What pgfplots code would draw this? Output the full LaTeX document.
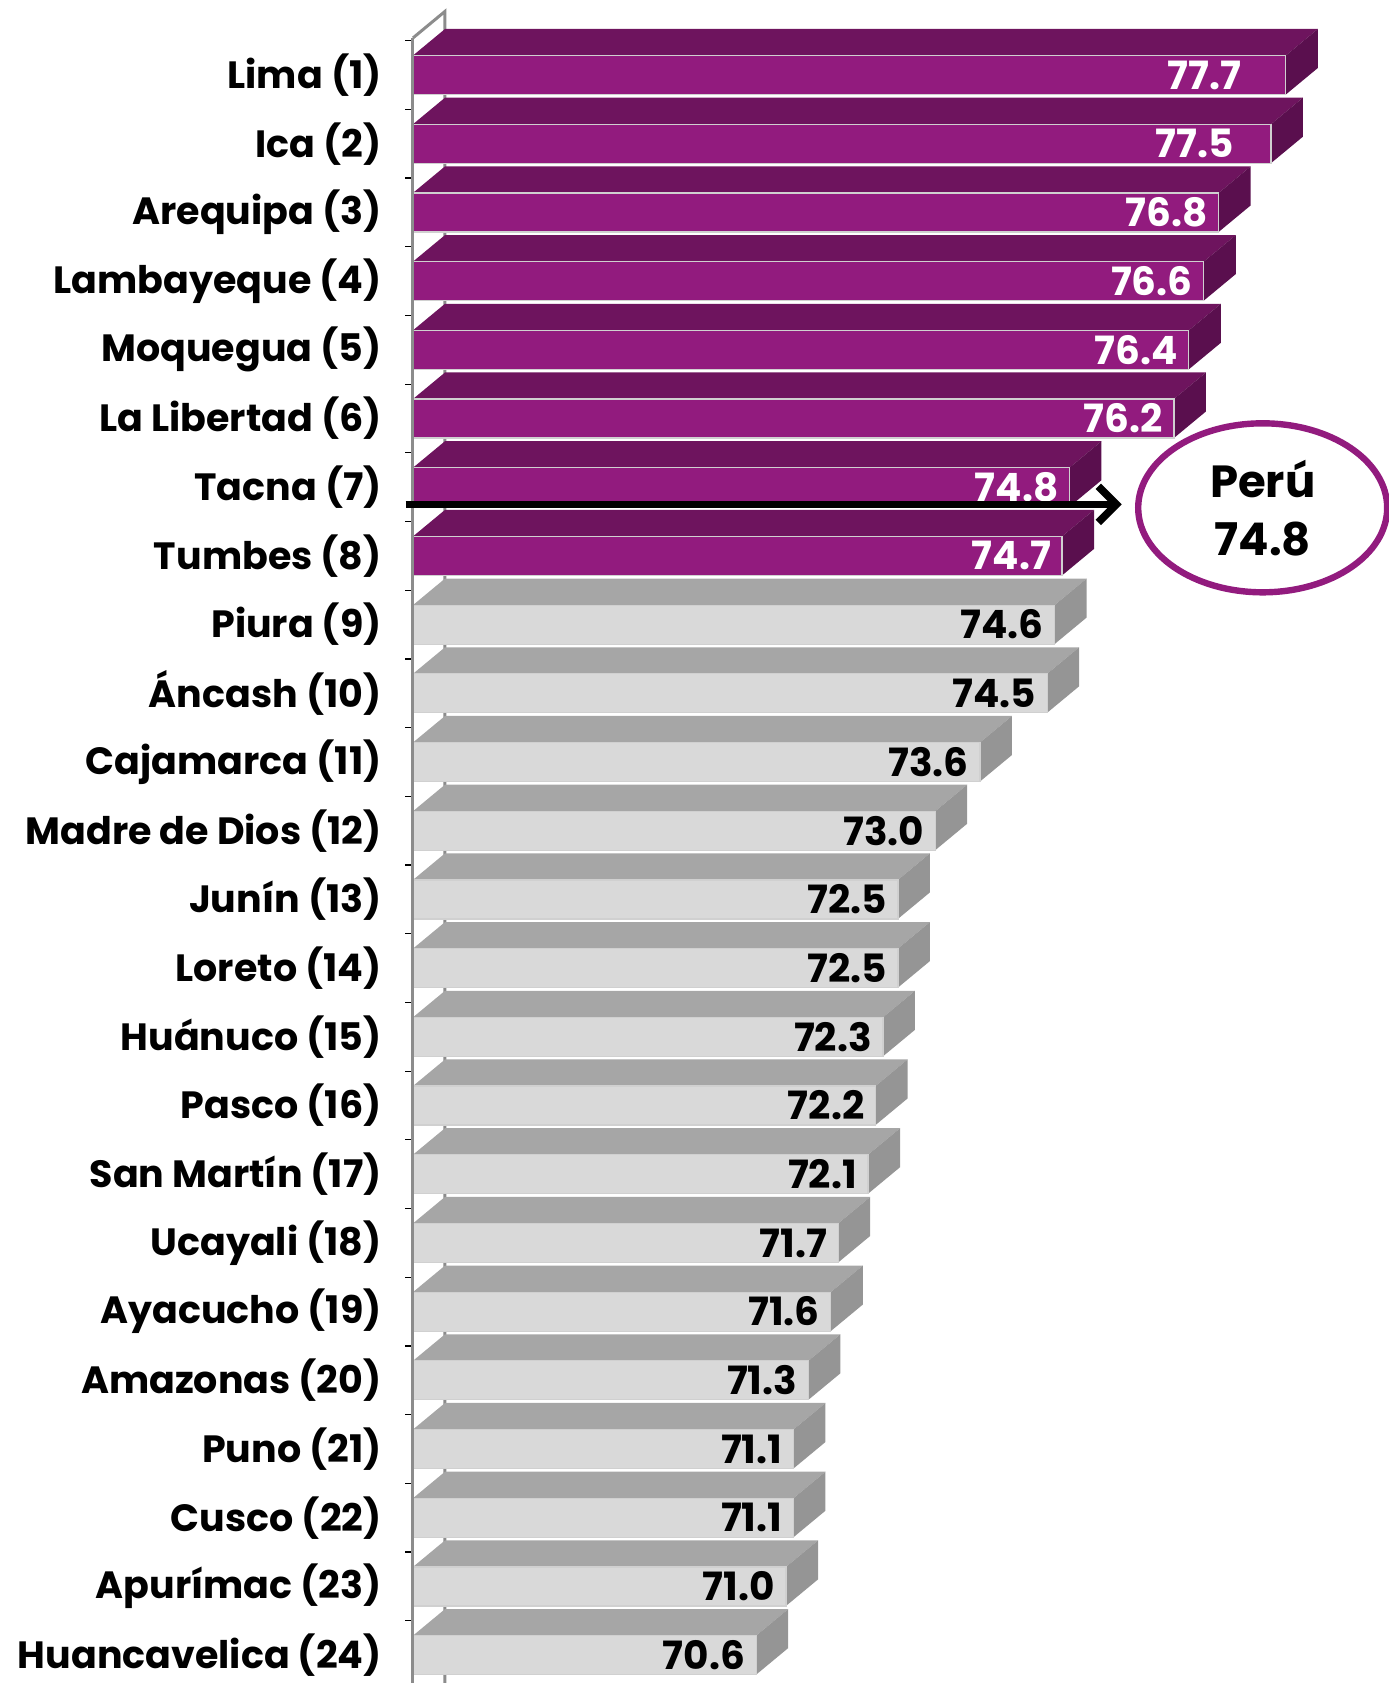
\documentclass[border=0pt]{standalone}
\usepackage{fontspec}
\setmainfont{Poppins}
\usepackage{pgfplots}
\pgfplotsset{compat=1.18}
\usepackage{pgfplotstable}
\usetikzlibrary{arrows.meta,shapes.geometric}
\definecolor{pfront}{HTML}{921B7E}
\definecolor{ptop}{HTML}{6E145E}
\definecolor{pside}{HTML}{5A0F4E}
\definecolor{gfront}{HTML}{D9D9D9}
\definecolor{gtop}{HTML}{A6A6A6}
\definecolor{gside}{HTML}{959595}
\definecolor{wallgray}{HTML}{8C8C8C}
\definecolor{fedge}{HTML}{D0D0D0}
\newcommand\labfont{\fontsize{19}{22}\selectfont\bfseries}
\newcommand\vfont{\fontsize{19.5}{24}\selectfont\bfseries}
\tikzset{vlab/.style={anchor=east, inner sep=0pt, font=\vfont}}
\pgfplotstableread{
idx v off
1 77.7 0.59
2 77.5 0.49
3 76.8 0.144
4 76.6 0.144
5 76.4 0.144
6 76.2 0.144
7 74.8 0.144
8 74.7 0.144
9 74.6 0.144
10 74.5 0.144
11 73.6 0.144
12 73.0 0.144
13 72.5 0.144
14 72.5 0.144
15 72.3 0.144
16 72.2 0.144
17 72.1 0.144
18 71.7 0.144
19 71.6 0.144
20 71.3 0.144
21 71.1 0.144
22 71.1 0.144
23 71.0 0.144
24 70.6 0.144
}\data
\begin{document}
\begin{tikzpicture}
\begin{axis}[name=ax, scale only axis, width=488pt, height=841.5pt,
  xmin=66, xmax=79.083, ymin=-0.0917, ymax=24.406, y dir=reverse,
  clip=false, axis x line=none, axis y line=left, y axis line style={draw=none},
  ytick={1,...,24},
  yticklabels={{Lima (1)},{Ica (2)},{Arequipa (3)},{Lambayeque (4)},{Moquegua (5)},{La Libertad (6)},{Tacna (7)},{Tumbes (8)},{Piura (9)},{Áncash (10)},{Cajamarca (11)},{Madre de Dios (12)},{Junín (13)},{Loreto (14)},{Huánuco (15)},{Pasco (16)},{San Martín (17)},{Ucayali (18)},{Ayacucho (19)},{Amazonas (20)},{Puno (21)},{Cusco (22)},{Apurímac (23)},{Huancavelica (24)}},
  major tick length=0pt,
  minor ytick={0.5,1.5,...,23.5},
  minor tick length=3.75pt, tick align=outside,
  minor tick style={black, line width=0.6pt},
  yticklabel style={font=\labfont, inner sep=0pt, xshift=-15.5pt},
]
\draw[wallgray, line width=1.5pt] (axis cs:66,0.46) -- (axis cs:66.429,0.074) -- (axis cs:66.429,24.406);
\pgfplotsforeachungrouped \i in {1,...,24}{%
  \pgfmathtruncatemacro\r{\i-1}%
  \pgfplotstablegetelem{\r}{v}\of\data \let\v\pgfplotsretval
  \pgfplotstablegetelem{\r}{off}\of\data \let\o\pgfplotsretval
  \pgfmathsetmacro\ya{\i-0.284}%
  \pgfmathsetmacro\yb{\i+0.284}%
  \pgfmathsetmacro\yc{\i-0.670}%
  \pgfmathsetmacro\yd{\i-0.102}%
  \pgfmathsetmacro\vx{\v+0.429}%
  \pgfmathsetmacro\lx{\v-\o}%
  \ifnum\i<9 \def\fc{pfront}\def\tc{ptop}\def\sc{pside}\def\txc{white}%
  \else \def\fc{gfront}\def\tc{gtop}\def\sc{gside}\def\txc{black}\fi
  \edef\cmd{%
    \noexpand\addplot[fill=\tc, draw=none, forget plot] coordinates {(66,\ya) (\v,\ya) (\vx,\yc) (66.429,\yc)} -- cycle;
    \noexpand\addplot[fill=\sc, draw=none, forget plot] coordinates {(\v,\ya) (\v,\yb) (\vx,\yd) (\vx,\yc)} -- cycle;
    \noexpand\addplot[fill=\fc, draw=fedge, line width=0.6pt, forget plot] coordinates {(66,\ya) (\v,\ya) (\v,\yb) (66,\yb)} -- cycle;
    \noexpand\node[vlab, text=\txc] at (axis cs:\lx,\i) {\v};
  }\cmd
}
\draw[wallgray, line width=1.5pt] (axis cs:66,0.46) -- (axis cs:66,24.406);
\draw[black, line width=3.8pt, -{Straight Barb[length=9pt,width=18pt]}] (axis cs:65.9,7.25) -- (axis cs:75.50,7.25);
\node[draw=pfront, line width=3.2pt, ellipse, minimum width=124.5pt, minimum height=84.5pt, inner sep=0pt, align=center, font=\fontsize{22.5}{29}\selectfont\bfseries] at (axis cs:77.39,7.30) {Perú\\74.8};
\end{axis}
\pgfresetboundingbox
\path[use as bounding box] (ax.south west) ++(-206.5pt,0pt) rectangle (ax.north east);
\end{tikzpicture}
\end{document}
